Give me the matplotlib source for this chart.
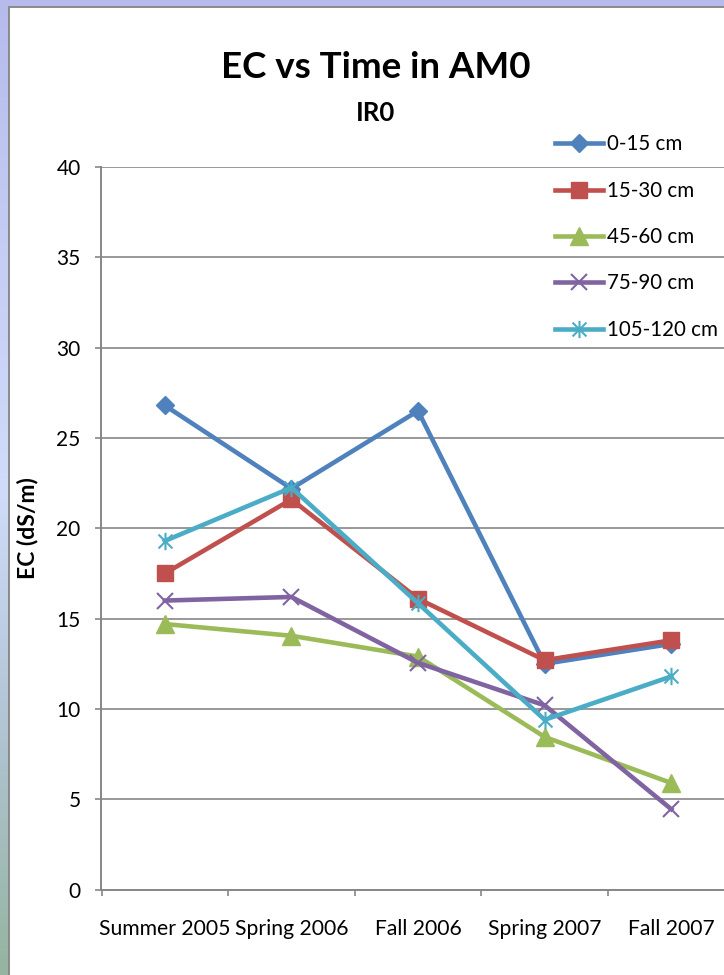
import numpy as np
import matplotlib
matplotlib.use("Agg")
import matplotlib.pyplot as plt
from matplotlib.path import Path
from matplotlib.patches import Rectangle

plt.rcParams['font.family'] = ['Lato', 'DejaVu Sans']

# ---------------- data ----------------
categories = ["Summer 2005", "Spring 2006", "Fall 2006", "Spring 2007", "Fall 2007"]
series_labels = ["0-15 cm", "15-30 cm", "45-60 cm", "75-90 cm", "105-120 cm"]
ec_0_15 = [26.8, 22.2, 26.5, 12.5, 13.6]
ec_15_30 = [17.5, 21.6, 16.1, 12.7, 13.8]
ec_45_60 = [14.7, 14.05, 12.9, 8.45, 5.9]
ec_75_90 = [16.0, 16.2, 12.55, 10.2, 4.45]
ec_105_120 = [19.3, 22.25, 15.85, 9.4, 11.8]
y_ticks = [0, 5, 10, 15, 20, 25, 30, 35, 40]

series_values = [ec_0_15, ec_15_30, ec_45_60, ec_75_90, ec_105_120]
colors = ["#4F81BD", "#C0504D", "#9BBB59", "#8064A2", "#4BACC6"]

asterisk = Path(
    [(-1, -1), (1, 1), (-1, 1), (1, -1), (0, -1.25), (0, 1.25)],
    [Path.MOVETO, Path.LINETO, Path.MOVETO, Path.LINETO, Path.MOVETO, Path.LINETO],
)
marker_styles = [
    dict(marker="D", ms=8.8, mew=1.0),
    dict(marker="s", ms=11.5, mew=1.0),
    dict(marker="^", ms=12.5, mew=1.0),
    dict(marker="x", ms=11.5, mew=1.5),
    dict(marker=asterisk, ms=12.5, mew=1.5),
]

W, H = 724, 975
fig = plt.figure(figsize=(W / 100, H / 100), dpi=100)

# ---------------- background frame ----------------
bg = fig.add_axes([0, 0, 1, 1], zorder=-10)
bg.set_axis_off()
stops_y = [0.0, 0.25, 0.5, 0.75, 1.0]
stops_c = np.array([
    [182, 187, 236],
    [196, 205, 244],
    [208, 220, 250],
    [176, 196, 210],
    [150, 180, 160],
]) / 255.0
yy = np.linspace(0, 1, 200)
grad = np.stack([np.interp(yy, stops_y, stops_c[:, k]) for k in range(3)], axis=1)
bg.imshow(grad[:, None, :], aspect="auto", extent=[0, 1, 0, 1], origin="upper")
bg.set_xlim(0, 1)
bg.set_ylim(0, 1)
bg.add_patch(Rectangle((8.5 / W, -0.01), 1.02, (H - 6.5) / H + 0.01,
                       facecolor="white", edgecolor="#8a8a8a", linewidth=1.4))

# ---------------- main axes ----------------
left_px, right_px, top_px, bottom_px = 101.5, 734.6, 167.0, 889.6
ax = fig.add_axes([left_px / W, (H - bottom_px) / H,
                   (right_px - left_px) / W, (bottom_px - top_px) / H])
ax.set_facecolor("none")

x = np.arange(len(categories))
handles = []
for vals, lab, col, ms in zip(series_values, series_labels, colors, marker_styles):
    ln, = ax.plot(x, vals, color=col, lw=3.3, marker=ms["marker"], markersize=ms["ms"],
                  markerfacecolor=col, markeredgecolor=col, markeredgewidth=ms["mew"],
                  label=lab, clip_on=False)
    handles.append(ln)

ax.set_xlim(-0.5, len(categories) - 0.5)
ax.set_ylim(0, 40)

grid_col = "#868686"
for v in y_ticks[1:]:
    ax.axhline(v, color=grid_col, lw=1.2, zorder=0.5)

for s in ["top", "right"]:
    ax.spines[s].set_visible(False)
for s in ["left", "bottom"]:
    ax.spines[s].set_color(grid_col)
    ax.spines[s].set_linewidth(1.4)

ax.set_yticks(y_ticks)
ax.set_yticklabels([str(v) for v in y_ticks])
ax.tick_params(axis="y", length=4.5, width=1.2, color=grid_col, pad=10.5,
               labelsize=15, labelcolor="black")

ax.set_xticks(np.arange(-0.5, len(categories), 1.0))
ax.set_xticklabels([])
ax.set_xticks(x, minor=True)
ax.set_xticklabels(categories, minor=True)
ax.tick_params(axis="x", which="major", length=4.5, width=1.2, color=grid_col)
ax.tick_params(axis="x", which="minor", length=0, pad=21, labelsize=15.2,
               labelcolor="black")

# ---------------- titles ----------------
fig.text(376 / W, 1 - 78 / H, "EC vs Time in AM0", ha="center", va="baseline",
         fontsize=26.5, fontweight="bold")
fig.text(376 / W, 1 - 121 / H, "IR0", ha="center", va="baseline",
         fontsize=18.5, fontweight="bold")
fig.text(28 / W, 1 - 528 / H, "EC (dS/m)", ha="center", va="center",
         rotation=90, fontsize=16.5, fontweight="bold")

# ---------------- legend ----------------
fs = 14.8
fig.legend(handles=handles, labels=series_labels, loc="upper left",
           bbox_to_anchor=(555 / W, 1 - 134.5 / H), bbox_transform=fig.transFigure,
           frameon=False, fontsize=fs, handlelength=2.33, handletextpad=0.18,
           labelspacing=1.28, borderpad=0, borderaxespad=0)

fig.savefig("out.png", dpi=100)
